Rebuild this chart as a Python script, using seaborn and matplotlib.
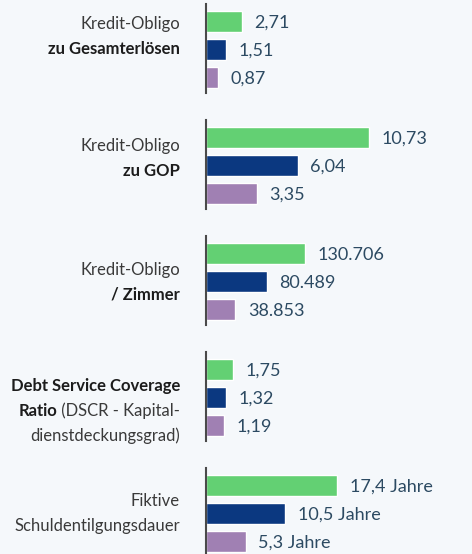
import pandas as pd
import matplotlib
matplotlib.use('Agg')
import matplotlib.pyplot as plt
import seaborn as sns

# Werte je Kennzahl (grün / dunkelblau / violett)
gruen = [2.71, 10.73, 130706, 1.75, 17.4]
blau = [1.51, 6.04, 80489, 1.32, 10.5]
violett = [0.87, 3.35, 38853, 1.19, 5.3]

werte_text = [
    ['2,71', '1,51', '0,87'],
    ['10,73', '6,04', '3,35'],
    ['130.706', '80.489', '38.853'],
    ['1,75', '1,32', '1,19'],
    ['17,4 Jahre', '10,5 Jahre', '5,3 Jahre'],
]

# Beschriftungen: Liste von Zeilen, jede Zeile = Liste (text, fett?)
beschriftungen = [
    [[('Kredit-Obligo', False)], [('zu Gesamterlösen', True)]],
    [[('Kredit-Obligo', False)], [('zu GOP', True)]],
    [[('Kredit-Obligo', False)], [('/ Zimmer', True)]],
    [[('Debt Service Coverage', True)],
     [('Ratio', True), (' (DSCR - Kapital-', False)],
     [('dienstdeckungsgrad)', False)]],
    [[('Fiktive', False)], [('Schuldentilgungsdauer', False)]],
]

# jede Gruppe hat ihre eigene Skala
x_max = [20.0, 17.5, 351000, 17.2, 35.3]

serien = ['a', 'b', 'c']
farben = ['#63d073', '#0b3880', '#a080b3']
hintergrund = '#f5f8fb'

sns.set_theme(style='white')
plt.rcParams['font.family'] = ['Lato', 'DejaVu Sans']

W, H = 472, 554
fig = plt.figure(figsize=(W / 100, H / 100), dpi=100, facecolor=hintergrund)

ax_left = 206
ax_h = 89
label_x = 180
label_first = [23, 145, 269, 385, 500]
line_gap = 24.5

for i in range(5):
    top = 4 + 116 * i
    ax = fig.add_axes([ax_left / W, 1 - (top + ax_h) / H, (W - ax_left) / W, ax_h / H])
    ax.set_facecolor(hintergrund)
    df = pd.DataFrame({'serie': serien, 'wert': [gruen[i], blau[i], violett[i]]})
    sns.barplot(data=df, x='wert', y='serie', hue='serie', palette=farben,
                legend=False, width=0.75, saturation=1, ax=ax)
    ax.set_xlim(0, x_max[i])
    ax.set_ylim(2.55, -0.625)
    ax.set_xlabel('')
    ax.set_ylabel('')
    ax.set_xticks([])
    ax.set_yticks([])
    for s in ['top', 'right', 'bottom']:
        ax.spines[s].set_visible(False)
    ax.spines['left'].set_color('#4a4a4a')
    ax.spines['left'].set_linewidth(1.5)
    for j, v in enumerate(df['wert']):
        ax.annotate(werte_text[i][j], xy=(v, j), xytext=(9, 0),
                    textcoords='offset points', va='center_baseline', ha='left',
                    fontsize=13, color='#2c4a62')

fig.canvas.draw()
renderer = fig.canvas.get_renderer()
for i, zeilen in enumerate(beschriftungen):
    for k, zeile in enumerate(zeilen):
        y = 1 - (label_first[i] + k * line_gap) / H
        x = label_x / W
        for text, fett in reversed(zeile):
            t = fig.text(x, y, text, ha='right', va='center_baseline', fontsize=12,
                         fontweight='bold' if fett else 'normal',
                         color='#1c1c1c' if fett else '#3a3a3a')
            bb = t.get_window_extent(renderer)
            x = bb.x0 / W

fig.savefig('out.png', dpi=100, facecolor=hintergrund)
